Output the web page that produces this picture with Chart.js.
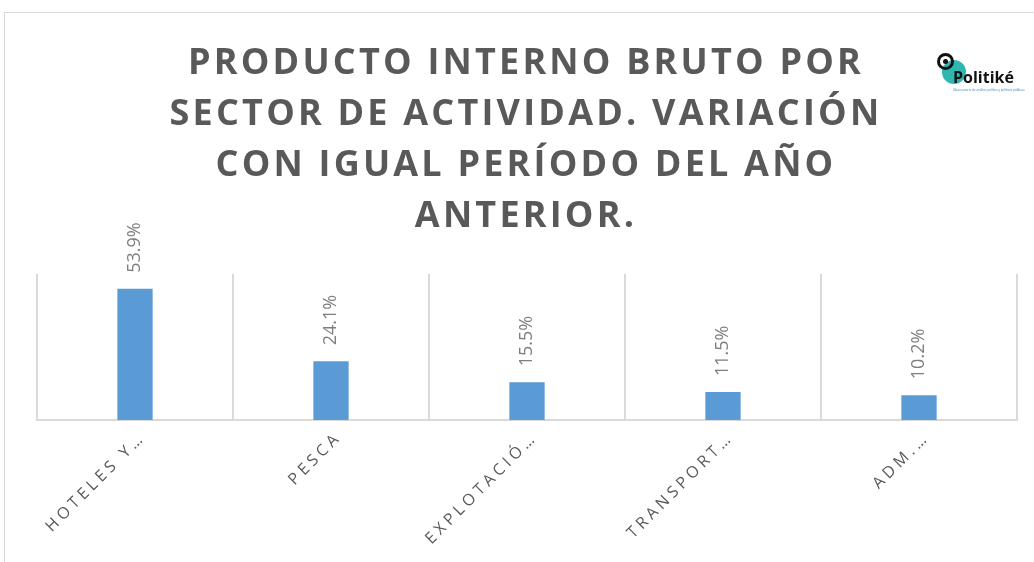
<!DOCTYPE html>
<html>
<head>
<meta charset="utf-8">
<script src="https://cdn.jsdelivr.net/npm/chart.js@4.4.1/dist/chart.umd.min.js"></script>
<style>
  html, body { margin:0; padding:0; background:#fff; }
  #wrap { position:relative; width:1034px; height:562px; overflow:hidden; }
  #frame { position:absolute; left:4px; top:12px; width:1060px; height:600px; border:1px solid #d9d9d9; box-sizing:border-box; }
  #title { position:absolute; left:26px; width:1000px; top:35px; text-align:center;
    font-family:'Open Sans', sans-serif; font-weight:700; font-size:36px; line-height:51px;
    letter-spacing:3.2px; color:#595959; white-space:nowrap; }
  #logo { position:absolute; left:929px; top:39px; width:98px; height:62px; }
  #logo .teal { position:absolute; left:13px; top:21px; width:24px; height:24px; border-radius:50%; background:#2fb6b0; }
  #logo .ring { position:absolute; left:8px; top:14px; width:11px; height:11px; border-radius:50%; border:3px solid #111; background:transparent; }
  #logo .dot { position:absolute; left:14px; top:20px; width:5px; height:5px; border-radius:50%; background:#111; }
  #logo .name { position:absolute; left:24px; top:27px; font-family:'Open Sans', sans-serif; font-weight:700; font-size:16px; color:#111; letter-spacing:0; }
  #logo .sub { position:absolute; left:24px; top:49px; font-family:'Open Sans', sans-serif; font-size:3px; color:#2a7fb0; white-space:nowrap; }
  canvas { position:absolute; left:0; top:0; }
</style>
</head>
<body>
<div id="wrap">
  <div id="frame"></div>
  <canvas id="c" width="1034" height="562"></canvas>
  <div id="title">PRODUCTO INTERNO BRUTO POR<br>SECTOR DE ACTIVIDAD. VARIACIÓN<br>CON IGUAL PERÍODO DEL AÑO<br>ANTERIOR.</div>
  <div id="logo">
    <div class="teal"></div>
    <div class="ring"></div>
    <div class="dot"></div>
    <div class="name">Politiké</div>
    <div class="sub">Observatorio de análisis político y políticas públicas</div>
  </div>
</div>
<script>
const categories = ['HOTELES Y…', 'PESCA', 'EXPLOTACIÓ…', 'TRANSPORT…', 'ADM.…'];
const values = [53.9, 24.1, 15.5, 11.5, 10.2];
const valueLabels = ['53.9%', '24.1%', '15.5%', '11.5%', '10.2%'];

const spacingPlugin = {
  id: 'spacing',
  beforeLayout(chart) { chart.ctx.letterSpacing = '4px'; },
  beforeDraw(chart) { chart.ctx.letterSpacing = '4px'; }
};

const labelPlugin = {
  id: 'vlabels',
  afterDatasetsDraw(chart) {
    const ctx = chart.ctx;
    const meta = chart.getDatasetMeta(0);
    ctx.save();
    ctx.letterSpacing = '0px';
    ctx.font = '18px "Open Sans", sans-serif';
    ctx.fillStyle = '#7f7f7f';
    ctx.textAlign = 'left';
    ctx.textBaseline = 'middle';
    meta.data.forEach((bar, i) => {
      ctx.save();
      ctx.translate(bar.x, bar.y - 16);
      ctx.rotate(-Math.PI / 2);
      ctx.fillText(valueLabels[i], 0, 0);
      ctx.restore();
    });
    ctx.restore();
  }
};

new Chart(document.getElementById('c'), {
  type: 'bar',
  data: {
    labels: categories,
    datasets: [{
      data: values,
      backgroundColor: '#5b9bd5',
      borderWidth: 0,
      barPercentage: 0.18,
      categoryPercentage: 1.0
    }]
  },
  plugins: [spacingPlugin, labelPlugin],
  options: {
    responsive: false,
    animation: false,
    layout: { padding: { top: 274, left: 37, right: 17, bottom: 0 } },
    plugins: { legend: { display: false }, title: { display: false }, tooltip: { enabled: false } },
    scales: {
      y: { display: false, min: 0, max: 60 },
      x: {
        afterFit(s) { s.height = 142; },
        grid: { display: true, offset: true, color: '#d9d9d9', lineWidth: 2, drawTicks: false },
        border: { display: true, color: '#d9d9d9', width: 2 },
        ticks: {
          minRotation: 45, maxRotation: 45, autoSkip: false, padding: 8, labelOffset: 8,
          color: '#595959',
          font: { family: '"Open Sans", sans-serif', size: 16 }
        }
      }
    }
  }
});
</script>
</body>
</html>
